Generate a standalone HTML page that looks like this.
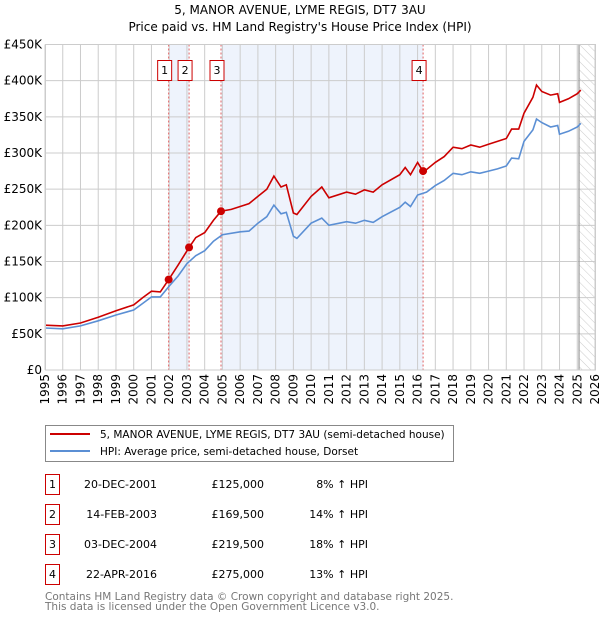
<!DOCTYPE html>
<html><head><meta charset="utf-8"><style>
body{margin:0;background:#fff;font-family:"DejaVu Sans","Liberation Sans",sans-serif;}
svg text{font-family:"DejaVu Sans","Liberation Sans",sans-serif;}
</style></head><body>
<svg id="c" width="600" height="620" xmlns="http://www.w3.org/2000/svg">
<defs><pattern id="hatch" width="6" height="6" patternUnits="userSpaceOnUse" patternTransform="rotate(-45)"><line x1="0" y1="0" x2="0" y2="6" stroke="#ccc" stroke-width="1"/></pattern></defs>
<text x="300" y="14" text-anchor="middle" font-size="12">5, MANOR AVENUE, LYME REGIS, DT7 3AU</text>
<text x="300" y="31" text-anchor="middle" font-size="12">Price paid vs. HM Land Registry's House Price Index (HPI)</text>
<g id="plot"></g>
<g>
<rect x="45.5" y="425.5" width="408" height="36" fill="#fff" stroke="#888"/>
<line x1="50" y1="434" x2="90" y2="434" stroke="#cc0000" stroke-width="2"/>
<text x="100" y="438" font-size="10.5">5, MANOR AVENUE, LYME REGIS, DT7 3AU (semi-detached house)</text>
<line x1="50" y1="451" x2="90" y2="451" stroke="#5b8fd4" stroke-width="2"/>
<text x="100" y="455" font-size="10.5">HPI: Average price, semi-detached house, Dorset</text>
</g>
<g id="table"></g>
<text x="45" y="600" font-size="10.5" fill="#777">Contains HM Land Registry data © Crown copyright and database right 2025.</text>
<text x="45" y="610" font-size="10.5" fill="#777">This data is licensed under the Open Government Licence v3.0.</text>
</svg>
<script>
const hpiYears=[1995,1996,1997,1998,1999,2000,2000.5,2001,2001.5,2002,2002.5,2003,2003.5,2004,2004.5,2005,2006,2006.5,2007,2007.5,2007.9,2008.3,2008.6,2009.0,2009.2,2010,2010.6,2011,2012,2012.5,2013,2013.5,2014,2015,2015.3,2015.6,2016,2016.5,2017,2017.5,2018,2018.5,2019,2019.5,2020,2020.5,2021,2021.3,2021.7,2022,2022.5,2022.7,2023,2023.5,2023.9,2024,2024.5,2025,2025.2];
const hpiValues=[58,57,61,68,76,83,92,101,101,116,130,147,158,165,178,187,191,192,203,212,228,216,218,185,182,203,210,200,205,203,207,204,212,225,232,226,242,246,255,262,272,270,274,272,275,278,282,293,292,316,332,347,342,336,338,326,330,336,341];
const priceYears=[1995,1996,1997,1998,1999,2000,2000.5,2001,2001.5,2001.97,2002.5,2003.12,2003.5,2004,2004.5,2004.92,2005.5,2006,2006.5,2007,2007.5,2007.9,2008.3,2008.6,2009.0,2009.2,2010,2010.6,2011,2012,2012.5,2013,2013.5,2014,2015,2015.3,2015.6,2016,2016.3,2016.5,2017,2017.5,2018,2018.5,2019,2019.5,2020,2020.5,2021,2021.3,2021.7,2022,2022.5,2022.7,2023,2023.5,2023.9,2024,2024.5,2025,2025.2];
const priceValues=[62,61,65,73,82,90,100,109,108,125,145,169.5,183,190,207,219.5,222,226,230,240,250,268,253,256,217,215,240,253,238,246,243,249,246,256,270,280,270,287,275,277,287,295,308,306,311,308,312,316,320,333,333,355,377,394,385,380,382,370,375,382,387];
const saleIds=["1","2","3","4"];
const saleYears=[2001.97,2003.12,2004.92,2016.31];
const saleValues=[125,169.5,219.5,275];
const saleDates=["20-DEC-2001","14-FEB-2003","03-DEC-2004","22-APR-2016"];
const salePrices=["£125,000","£169,500","£219,500","£275,000"];
const saleHpi=["8% ↑ HPI","14% ↑ HPI","18% ↑ HPI","13% ↑ HPI"];
const yTicks=[0,50,100,150,200,250,300,350,400,450];
const yTickLabels=["£0","£50K","£100K","£150K","£200K","£250K","£300K","£350K","£400K","£450K"];
const xTicks=[1995,1996,1997,1998,1999,2000,2001,2002,2003,2004,2005,2006,2007,2008,2009,2010,2011,2012,2013,2014,2015,2016,2017,2018,2019,2020,2021,2022,2023,2024,2025,2026];
const dataEnd=2025.1;

const NS="http://www.w3.org/2000/svg";
const L=45,R=595,T=44.5,B=370;
const X=v=>L+(v-1995)/(2026-1995)*(R-L);
const Y=v=>B-v/450*(B-T);
const plot=document.getElementById('plot');
function mk(tag,attrs,parent){const e=document.createElementNS(NS,tag);for(const k in attrs)e.setAttribute(k,attrs[k]);(parent||plot).appendChild(e);return e;}

let e;
e=mk('rect',{x:X(saleYears[0]),y:T,width:X(saleYears[1])-X(saleYears[0]),height:B-T,fill:'#eef3fc'});


e=mk('rect',{x:X(saleYears[2]),y:T,width:X(saleYears[3])-X(saleYears[2]),height:B-T,fill:'#eef3fc'});


e=mk('rect',{x:X(dataEnd),y:T,width:R-X(dataEnd),height:B-T,fill:'url(#hatch)'});



yTicks.forEach((v,i)=>{
  e=mk('line',{x1:L,x2:R,y1:Y(v),y2:Y(v),stroke:'#ccc','stroke-width':1});
  
  
  e=mk('text',{x:L-3,y:Y(v)+4,'text-anchor':'end','font-size':12});
  e.textContent=yTickLabels[i];
  
  
});
xTicks.forEach(v=>{
  e=mk('line',{x1:X(v),x2:X(v),y1:T,y2:B,stroke:'#ccc','stroke-width':1});
  
  
  const tx=X(v)+4,ty=B+4;
  e=mk('text',{x:tx,y:ty,'text-anchor':'end','font-size':12,transform:`rotate(-90 ${tx} ${ty})`});
  e.textContent=v;
  
  
});
e=mk('line',{x1:X(dataEnd),x2:X(dataEnd),y1:T,y2:B,stroke:'#999','stroke-width':1.2});



saleYears.forEach((v,i)=>{
  e=mk('line',{x1:X(v),x2:X(v),y1:T,y2:B,stroke:'#e06060','stroke-width':1,'stroke-dasharray':'2,2'});
  
  
});

function path(xs,ys){return xs.map((x,i)=>(i?'L':'M')+X(x).toFixed(1)+','+Y(ys[i]).toFixed(1)).join('');}
e=mk('path',{d:path(hpiYears,hpiValues),fill:'none',stroke:'#5b8fd4','stroke-width':1.6});


e=mk('path',{d:path(priceYears,priceValues),fill:'none',stroke:'#cc0000','stroke-width':1.6});



saleYears.forEach((v,i)=>{
  e=mk('circle',{cx:X(v),cy:Y(saleValues[i]),r:4,fill:'#cc0000'});
  
  
  const cx=X(v)-4;
  e=mk('rect',{x:cx-7,y:60.5,width:14,height:20,fill:'#fff',stroke:'#cc0000'});
  
  
  e=mk('text',{x:cx,y:74,'text-anchor':'middle','font-size':11});
  e.textContent=saleIds[i];
  
  
});
e=mk('rect',{x:L+0.5,y:T,width:R-L,height:B-T,fill:'none',stroke:'#ccc'});



const tbl=document.getElementById('table');
saleIds.forEach((id,i)=>{
  const y=483+i*30;
  e=mk('rect',{x:45.5,y:y-8.5,width:14,height:20,fill:'#fff',stroke:'#cc0000'},tbl);
  
  
  e=mk('text',{x:52.5,y:y+5,'text-anchor':'middle','font-size':11},tbl);e.textContent=id;
  
  
  e=mk('text',{x:157,y:y+5,'text-anchor':'end','font-size':11},tbl);e.textContent=saleDates[i];
  
  
  e=mk('text',{x:264,y:y+5,'text-anchor':'end','font-size':11},tbl);e.textContent=salePrices[i];
  
  
  e=mk('text',{x:368,y:y+5,'text-anchor':'end','font-size':11},tbl);e.textContent=saleHpi[i];
  
  
});
</script>
</body></html>
